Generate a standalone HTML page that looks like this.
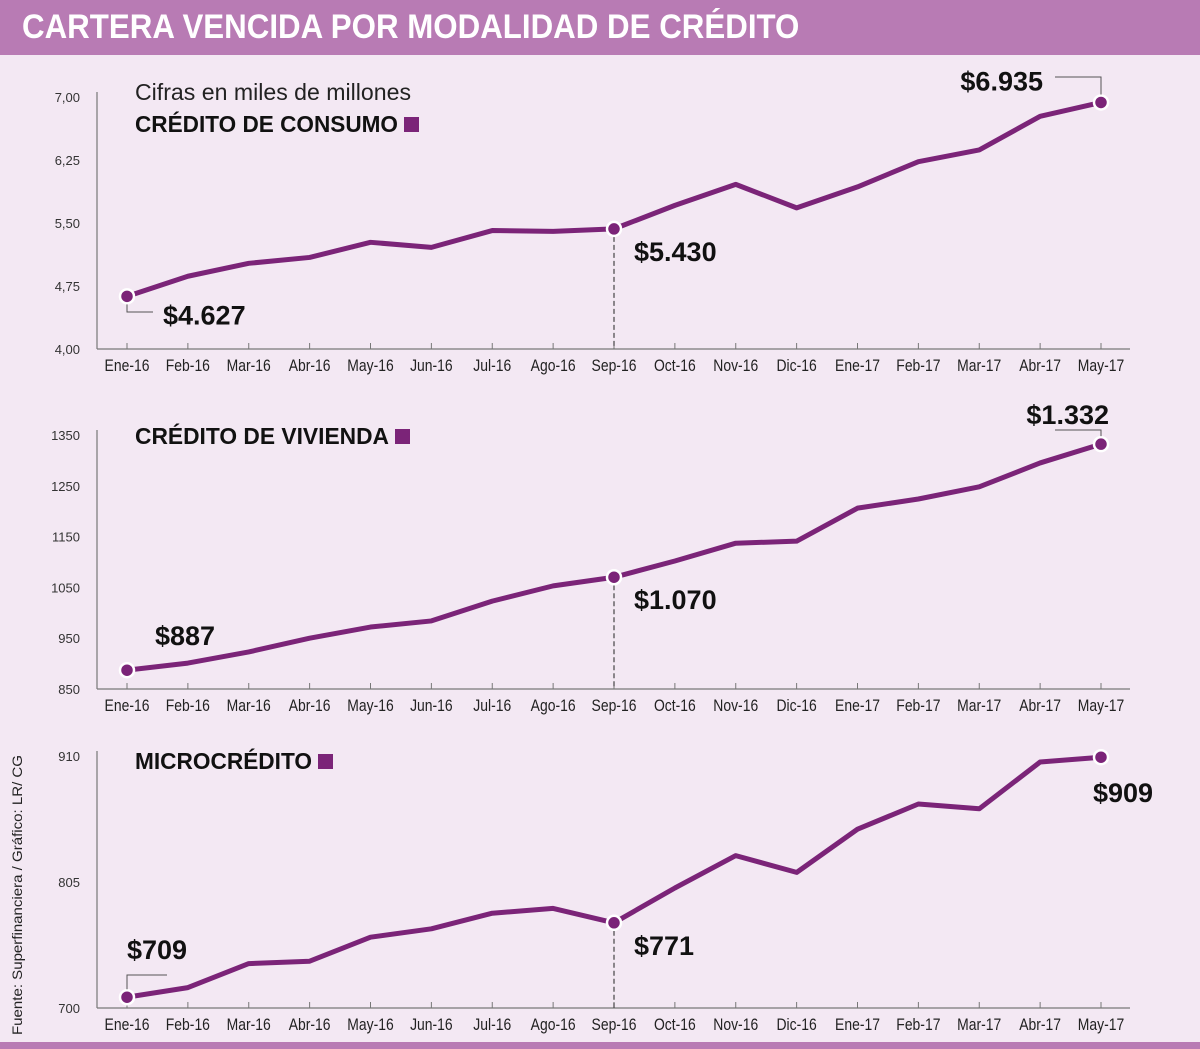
<!DOCTYPE html>
<html><head><meta charset="utf-8">
<style>
body{margin:0;width:1200px;height:1049px;background:#f3e8f3;overflow:hidden;font-family:"Liberation Sans",sans-serif}
#bar{position:absolute;left:0;top:0;width:1200px;height:55px;background:#b87bb4}
#title{position:absolute;left:22px;top:8px;color:#fff;font-weight:bold;font-size:34px;white-space:nowrap;transform:scaleX(0.92);transform-origin:left top}
#foot{position:absolute;left:0;top:1042px;width:1200px;height:7px;background:#b87bb4}
svg{position:absolute;left:0;top:0}
</style></head>
<body>
<div id="bar"></div>
<div id="title">CARTERA VENCIDA POR MODALIDAD DE CRÉDITO</div>
<div id="foot"></div>
<svg id="svg" width="1200" height="1049">
<text x="22" y="1035" transform="rotate(-90 22 1035)" font-size="14" fill="#222" textLength="280" lengthAdjust="spacingAndGlyphs">Fuente: Superfinanciera / Gráfico: LR/ CG</text>
</svg>
<script>
const categories=["Ene-16","Feb-16","Mar-16","Abr-16","May-16","Jun-16","Jul-16","Ago-16","Sep-16","Oct-16","Nov-16","Dic-16","Ene-17","Feb-17","Mar-17","Abr-17","May-17"];
const consumoValues=[4.627,4.866,5.02,5.09,5.27,5.21,5.41,5.40,5.43,5.71,5.96,5.68,5.93,6.23,6.37,6.77,6.935];
const viviendaValues=[887,901,923,950,972,984,1023,1053,1070,1102,1137,1141,1206,1224,1248,1295,1332];
const microValues=[709,717,737,739,759,766,779,783,771,800,827,813,849,870,866,905,909];
const consumoTicks=["4,00","4,75","5,50","6,25","7,00"];
const consumoTickVals=[4,4.75,5.5,6.25,7];
const viviendaTicks=["850","950","1050","1150","1250","1350"];
const viviendaTickVals=[850,950,1050,1150,1250,1350];
const microTicks=["700","805","910"];
const microTickVals=[700,805,910];
const consumoLabels=["$4.627","$5.430","$6.935"];
const viviendaLabels=["$887","$1.070","$1.332"];
const microLabels=["$709","$771","$909"];

const NS="http://www.w3.org/2000/svg";
const svg=document.getElementById('svg');
const C="#7b2478";
function mk(t,a,txt){const e=document.createElementNS(NS,t);for(const k in a)e.setAttribute(k,a[k]);if(txt!=null)e.textContent=txt;svg.appendChild(e);return e;}
function xs(i){return 127+i*(1101-127)/16;}

function chart(cfg){
  const {vals,tickVals,ticks,vmin,vmax,y0,y1,name,title,tx,ty,sqx,labels,labelPos}=cfg;
  const ys=v=>y0-(v-vmin)/(vmax-vmin)*(y0-y1);
  let e=mk('line',{x1:97,y1:y1-5,x2:97,y2:y0,stroke:'#777','stroke-width':1.2});
  
  e=mk('line',{x1:97,y1:y0,x2:1130,y2:y0,stroke:'#777','stroke-width':1.2});
  
  tickVals.forEach((v,i)=>{
    const t=mk('text',{x:80,y:ys(v)+5,'text-anchor':'end','font-size':13,fill:'#333'},ticks[i]);
    
  });
  categories.forEach((c,i)=>{
    mk('line',{x1:xs(i),y1:y0,x2:xs(i),y2:y0-6,stroke:'#777','stroke-width':1});
    const t=mk('text',{x:xs(i),y:y0+22,'text-anchor':'middle','font-size':17,fill:'#222',transform:`translate(${xs(i)} 0) scale(0.82 1) translate(${-xs(i)} 0)`},c);
    
  });
  e=mk('line',{x1:xs(8),y1:ys(vals[8]),x2:xs(8),y2:y0,stroke:'#222','stroke-width':1,'stroke-dasharray':'5,3'});
  
  const pts=vals.map((v,i)=>xs(i)+','+ys(v)).join(' ');
  e=mk('polyline',{points:pts,fill:'none',stroke:C,'stroke-width':5,'stroke-linejoin':'round'});
  
  [0,8,16].forEach(i=>{
    const d=mk('circle',{cx:xs(i),cy:ys(vals[i]),r:7,fill:C,stroke:'#fff','stroke-width':2.5});
    
  });
  [0,8,16].forEach((i,k)=>{
    const p=labelPos[k];
    const t=mk('text',{x:xs(i)+p[0],y:ys(vals[i])+p[1],'text-anchor':p[2]||'start','font-size':27,'font-weight':'bold',fill:'#111'},labels[k]);
    
  });
  const t=mk('text',{x:tx,y:ty,'font-size':23,'font-weight':'bold',fill:'#111',textLength:sqx-tx-6,lengthAdjust:'spacingAndGlyphs'},title);
  
  const s=mk('rect',{x:sqx,y:ty-15,width:15,height:15,fill:C});
  
  return ys;
}
const y1=chart({vals:consumoValues,tickVals:consumoTickVals,ticks:consumoTicks,vmin:4,vmax:7,y0:349,y1:97,name:'consumo',title:'CRÉDITO DE CONSUMO',tx:135,ty:132,sqx:404,labels:consumoLabels,labelPos:[[36,28],[20,32],[-58,-12,'end']]});
mk('polyline',{points:`${xs(0)},${y1(consumoValues[0])+8} ${xs(0)},312 ${xs(0)+26},312`,fill:'none',stroke:'#555','stroke-width':1});
mk('polyline',{points:`${xs(16)-46},77 ${xs(16)},77 ${xs(16)},${y1(consumoValues[16])-8}`,fill:'none',stroke:'#555','stroke-width':1});
const cf=mk('text',{x:135,y:100,'font-size':23,fill:'#222',textLength:276,lengthAdjust:'spacingAndGlyphs'},'Cifras en miles de millones');

const y2=chart({vals:viviendaValues,tickVals:viviendaTickVals,ticks:viviendaTicks,vmin:850,vmax:1350,y0:689,y1:435,name:'vivienda',title:'CRÉDITO DE VIVIENDA',tx:135,ty:444,sqx:395,labels:viviendaLabels,labelPos:[[28,-25],[20,32],[8,-20,'end']]});
mk('polyline',{points:`${xs(16)-46},430 ${xs(16)},430 ${xs(16)},${y2(viviendaValues[16])-8}`,fill:'none',stroke:'#555','stroke-width':1});
const y3=chart({vals:microValues,tickVals:microTickVals,ticks:microTicks,vmin:700,vmax:910,y0:1008,y1:756,name:'micro',title:'MICROCRÉDITO',tx:135,ty:769,sqx:318,labels:microLabels,labelPos:[[0,-38],[20,32],[-8,45]]});
mk('polyline',{points:`${xs(0)},${y3(microValues[0])-8} ${xs(0)},975 ${xs(0)+40},975`,fill:'none',stroke:'#555','stroke-width':1});
</script>
</body></html>
